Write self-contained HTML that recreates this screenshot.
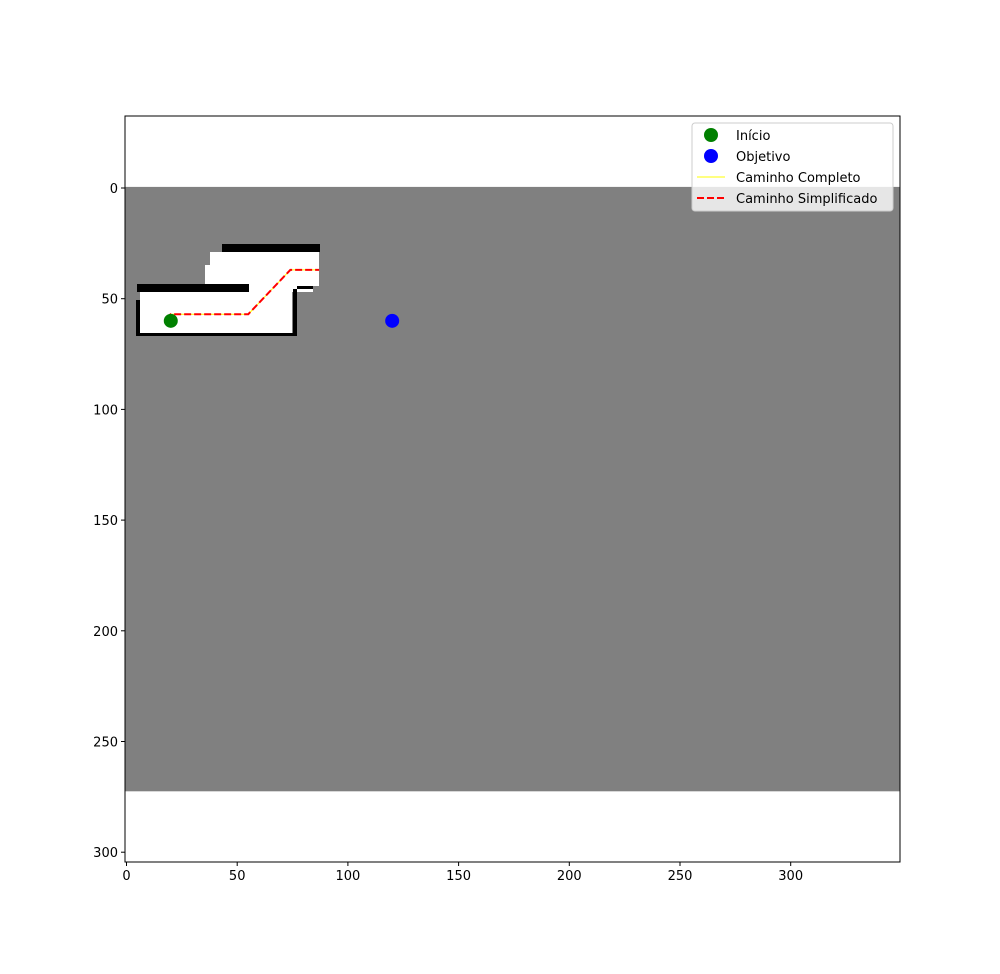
<!DOCTYPE html>
<html><head><meta charset="utf-8"><style>
body{margin:0;background:#fff;font-family:"Liberation Sans","DejaVu Sans",sans-serif}
text{font-family:"DejaVu Sans","Liberation Sans",sans-serif;font-size:13px}
</style></head><body>
<svg id="chart" width="1000" height="969" xmlns="http://www.w3.org/2000/svg">
<g id="map"></g>
<g id="paths"></g>
<g id="axes"></g>
<g id="legend"></g>
</svg>
<script>
const xTicks=[0,50,100,150,200,250,300];
const yTicks=[0,50,100,150,200,250,300];
const pathX=[20,20,55,74,87];
const pathY=[60,57,57,37,37];
const startPt=[20,60];
const goalPt=[120,60];
const L=125,T=116,R=900,B=862,k=2.214;
const sx=d=>126.5+d*k, sy=d=>188+d*k;
const NS='http://www.w3.org/2000/svg';
function mk(p,tag,at){const e=document.createElementNS(NS,tag);for(const a in at)e.setAttribute(a,at[a]);p.appendChild(e);return e;}
const map=document.getElementById('map');
const bg=mk(map,'rect',{x:sx(-0.5),y:sy(-0.5),width:350*k,height:273*k,fill:'#808080'});


const shapes=[
['#fff',210,252,109,34],['#fff',205,265,10,21],['#fff',249,284,64,8],
['#000',222,244,98,8],
['#000',137,284,112,8],['#fff',140,292,152,41],['#000',136,300,4,35],['#000',136,333,161,3],['#000',293,289,4,46],['#000',297,286,16,3]];
shapes.forEach(s=>{const r=mk(map,'rect',{x:s[1],y:s[2],width:s[3],height:s[4],fill:s[0]});

});
const paths=document.getElementById('paths');
const pts=pathX.map((x,i)=>sx(x)+','+sy(pathY[i])).join(' ');
const yl=mk(paths,'polyline',{points:pts,fill:'none',stroke:'#ffff00','stroke-width':1});


const rl=mk(paths,'polyline',{points:pts,fill:'none',stroke:'#ff0000','stroke-width':2,'stroke-dasharray':'7,3'});


const s=mk(paths,'circle',{cx:sx(startPt[0]),cy:sy(startPt[1]),r:7,fill:'#008000'});


const g=mk(paths,'circle',{cx:sx(goalPt[0]),cy:sy(goalPt[1]),r:7,fill:'#0000ff'});


const ax=document.getElementById('axes');
const fr=mk(ax,'rect',{x:L,y:T,width:R-L,height:B-T,fill:'none',stroke:'#000','stroke-width':1});


xTicks.forEach(v=>{const x=sx(v);mk(ax,'line',{x1:x,x2:x,y1:B,y2:B+4,stroke:'#000'});
const t=mk(ax,'text',{x:x,y:B+18,'text-anchor':'middle'});t.textContent=v;

});
yTicks.forEach(v=>{const y=sy(v);mk(ax,'line',{x1:L-4,x2:L,y1:y,y2:y,stroke:'#000'});
const t=mk(ax,'text',{x:L-7,y:y+5,'text-anchor':'end'});t.textContent=v;

});
const lg=document.getElementById('legend');
const box=mk(lg,'rect',{x:692,y:123,width:201,height:88,rx:3,fill:'#fff','fill-opacity':0.8,stroke:'#ccc'});


const items=[['Início','dot','#008000'],['Objetivo','dot','#0000ff'],['Caminho Completo','line','#ffff00'],['Caminho Simplificado','dash','#ff0000']];
items.forEach((it,i)=>{const y=135+i*21;
if(it[1]=='dot')mk(lg,'circle',{cx:711,cy:y,r:7,fill:it[2]});
else if(it[1]=='line')mk(lg,'line',{x1:697,x2:725,y1:y,y2:y,stroke:it[2],'stroke-width':1});
else mk(lg,'line',{x1:697,x2:725,y1:y,y2:y,stroke:it[2],'stroke-width':2,'stroke-dasharray':'7,3'});
const t=mk(lg,'text',{x:736,y:y+5});t.textContent=it[0];

});
</script>
</body></html>
